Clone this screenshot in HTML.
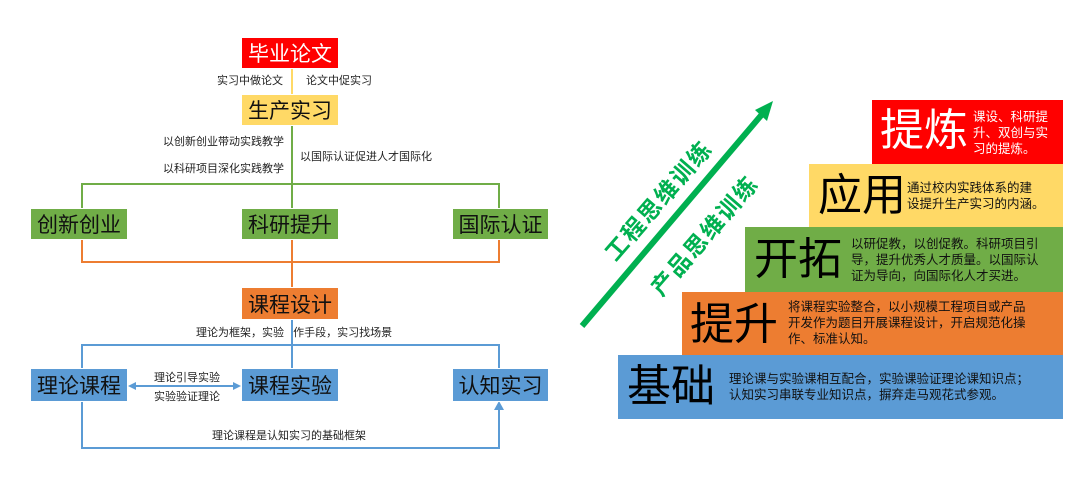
<!DOCTYPE html>
<html><head><meta charset="utf-8">
<style>
body{margin:0;width:1077px;height:478px;background:#fff;position:relative;overflow:hidden;font-family:"Liberation Sans","Noto Sans CJK SC",sans-serif;}
.b{position:absolute;display:flex;align-items:center;justify-content:center;font-size:21px;color:#111;box-sizing:border-box;border:1px solid #fff;}
.l{position:absolute;font-size:11px;color:#222;white-space:nowrap;line-height:12px;}
.s{position:absolute;box-sizing:border-box;}
.big{position:absolute;font-size:44px;color:#000;line-height:50px;}
.d{position:absolute;font-size:12.5px;color:#111;line-height:16px;}
.r{position:absolute;font-size:23px;font-weight:bold;color:#00b050;white-space:nowrap;letter-spacing:2px;transform-origin:center;}
</style></head><body>
<svg width="1077" height="478" style="position:absolute;left:0;top:0">
<line x1="292" y1="69" x2="292" y2="95" stroke="#ffd966" stroke-width="2"/>
<g stroke="#70ad47" stroke-width="2" fill="none">
<line x1="292" y1="126" x2="292" y2="208"/>
<polyline points="82,208 82,184 499,184 499,208"/>
</g>
<g stroke="#ed7d31" stroke-width="2" fill="none">
<polyline points="82,240 82,262 499,262 499,240"/>
<line x1="292" y1="240" x2="292" y2="288"/>
</g>
<g stroke="#5b9bd5" stroke-width="2" fill="none">
<line x1="292" y1="320" x2="292" y2="368"/>
<polyline points="82,368 82,345 499,345 499,368"/>
<polyline points="82,402 82,448 499,448 499,408"/>
<line x1="134" y1="386" x2="235" y2="386"/>
</g>
<g fill="#5b9bd5">
<polygon points="499,401 494,410 504,410"/>
<polygon points="128,386 136,382 136,390"/>
<polygon points="241,386 233,382 233,390"/>
</g>
<line x1="582" y1="326" x2="764" y2="112" stroke="#00b050" stroke-width="6"/>
<polygon points="773,101 755,110 767,121" fill="#00b050"/>
</svg>

<div class="b" style="left:241px;top:37px;width:98px;height:32px;background:#ff0000;color:#fff;">毕业论文</div>
<div class="l" style="left:217px;top:75px;">实习中做论文</div>
<div class="l" style="left:306px;top:75px;">论文中促实习</div>
<div class="b" style="left:241px;top:94px;width:98px;height:32px;background:#ffd966;">生产实习</div>
<div class="l" style="left:163px;top:136px;">以创新创业带动实践教学</div>
<div class="l" style="left:163px;top:163px;">以科研项目深化实践教学</div>
<div class="l" style="left:300px;top:151px;">以国际认证促进人才国际化</div>
<div class="b" style="left:30px;top:208px;width:98px;height:32px;background:#70ad47;">创新创业</div>
<div class="b" style="left:241px;top:208px;width:98px;height:32px;background:#70ad47;">科研提升</div>
<div class="b" style="left:452px;top:208px;width:97px;height:32px;background:#70ad47;">国际认证</div>
<div class="b" style="left:241px;top:287px;width:98px;height:33px;background:#ed7d31;">课程设计</div>
<div class="l" style="left:196px;top:327px;">理论为框架，实验&nbsp;&nbsp;&nbsp;作手段，实习找场景</div>
<div class="b" style="left:30px;top:368px;width:98px;height:34px;background:#5b9bd5;">理论课程</div>
<div class="b" style="left:241px;top:368px;width:98px;height:34px;background:#5b9bd5;">课程实验</div>
<div class="b" style="left:452px;top:368px;width:97px;height:34px;background:#5b9bd5;">认知实习</div>
<div class="l" style="left:154px;top:372px;">理论引导实验</div>
<div class="l" style="left:154px;top:391px;">实验验证理论</div>
<div class="l" style="left:212px;top:430px;">理论课程是认知实习的基础框架</div>

<div class="s" style="left:618px;top:355px;width:445px;height:64px;background:#5b9bd5;"></div>
<div class="s" style="left:682px;top:292px;width:381px;height:63px;background:#ed7d31;"></div>
<div class="s" style="left:745px;top:227px;width:318px;height:65px;background:#70ad47;"></div>
<div class="s" style="left:809px;top:164px;width:254px;height:63px;background:#ffd966;"></div>
<div class="s" style="left:872px;top:100px;width:191px;height:64px;background:#ff0000;"></div>

<div class="big" style="left:627px;top:362px;">基础</div>
<div class="d" style="left:729px;top:371px;">理论课与实验课相互配合，实验课验证理论课知识点；<br>认知实习串联专业知识点，摒弃走马观花式参观。</div>
<div class="big" style="left:690px;top:300px;">提升</div>
<div class="d" style="left:788px;top:299px;">将课程实验整合，以小规模工程项目或产品<br>开发作为题目开展课程设计，开启规范化操<br>作、标准认知。</div>
<div class="big" style="left:754px;top:235px;">开拓</div>
<div class="d" style="left:851px;top:236px;">以研促教，以创促教。科研项目引<br>导，提升优秀人才质量。以国际认<br>证为导向，向国际化人才买进。</div>
<div class="big" style="left:818px;top:171px;">应用</div>
<div class="d" style="left:907px;top:180px;">通过校内实践体系的建<br>设提升生产实习的内涵。</div>
<div class="big" style="left:880px;top:106px;color:#fff;">提炼</div>
<div class="d" style="left:973px;top:109px;color:#fff;">课设、科研提<br>升、双创与实<br>习的提炼。</div>

<div class="r" style="left:584px;top:186px;width:140px;text-align:center;transform:rotate(-49deg);">工程思维训练</div>
<div class="r" style="left:630px;top:221px;width:140px;text-align:center;transform:rotate(-49deg);">产品思维训练</div>
</body></html>
